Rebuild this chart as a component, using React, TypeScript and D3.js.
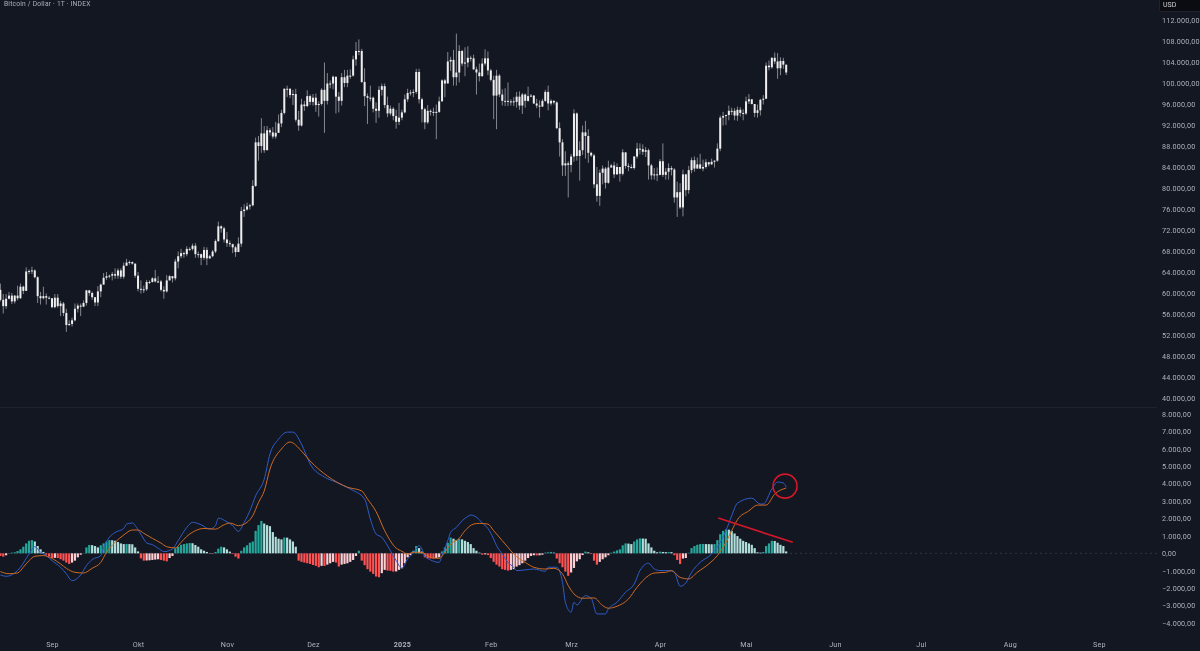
import { useEffect, useRef } from 'react'
import * as d3 from 'd3'

// daily candles, 14 Aug 2024 to 15 May 2025, thousands of USD. Open is the previous close
const firstOpen = 60.6
const closes = [
  58.7,57.5,58.9,59.5,58.4,59.5,59.0,61.2,60.4,64.1,64.2,64.3,63.0,59.4,59.0,59.4,59.1,59.0,
  57.3,59.1,57.5,58.0,56.2,53.9,54.1,54.8,57.0,57.6,57.4,58.1,60.5,60.0,59.2,58.2,60.3,61.6,62.9,63.2,63.3,63.6,63.3,64.3,63.1,65.2,65.8,65.9,65.6,63.3,
  60.8,60.6,60.7,62.1,62.1,62.8,62.2,62.2,60.6,60.3,62.4,63.2,62.8,66.0,67.0,67.6,67.4,68.4,68.4,69.0,67.4,67.4,66.7,68.2,66.6,67.0,67.9,69.9,72.7,72.3,70.2,
  69.5,69.3,68.7,67.8,69.4,75.6,75.9,76.5,76.7,80.4,88.7,88.0,90.4,87.2,91.0,90.6,89.8,90.5,92.3,94.3,98.9,98.9,97.7,97.9,93.0,91.9,95.9,95.6,97.5,96.4,
  97.2,95.8,96.0,98.7,96.6,99.9,99.9,101.2,97.4,96.6,101.1,100.0,101.4,101.4,104.5,106.1,106.1,100.2,97.5,97.2,97.2,95.1,94.7,98.7,99.4,95.8,94.2,95.1,93.7,92.6,93.4,
  94.4,96.9,98.1,98.2,98.3,102.1,96.9,95.0,92.5,94.7,94.5,94.5,94.5,96.5,100.5,99.9,104.1,104.4,101.1,102.0,106.1,103.7,103.9,104.8,104.7,102.6,102.0,101.3,103.7,104.7,102.4,
  100.6,97.6,101.4,97.8,96.6,96.6,96.5,96.5,96.4,97.4,95.7,97.8,96.6,97.5,97.6,96.1,95.7,95.5,96.6,98.3,96.1,96.6,96.3,91.4,88.7,84.3,84.7,84.4,
  86.0,94.2,86.1,87.2,90.6,89.9,86.7,86.2,80.7,78.5,82.9,83.7,81.0,83.9,84.3,82.6,84.0,82.7,86.8,84.2,84.0,83.8,86.0,87.5,87.4,86.9,87.2,84.3,82.4,82.6,82.5,
  85.1,82.5,83.1,83.8,83.5,78.2,79.2,76.3,82.6,79.6,83.4,85.3,83.7,84.5,83.7,84.0,84.9,84.5,85.0,85.2,87.5,93.4,93.7,93.9,94.7,94.7,93.8,94.9,94.3,94.2,
  96.5,96.9,96.0,94.3,94.8,96.8,97.0,103.3,103.0,104.8,104.1,102.8,104.2,103.5,102.0,
]
const highs = [
  61.8,59.8,59.8,60.2,60.0,59.6,61.4,61.8,61.4,64.9,64.5,65.0,64.5,63.2,60.2,61.2,59.9,59.4,
  59.0,59.8,59.8,58.5,58.3,57.0,54.8,55.3,58.0,58.0,58.0,58.6,60.6,60.6,60.3,59.2,61.3,61.8,63.8,64.0,63.5,64.0,64.7,64.7,64.7,65.8,66.5,66.2,66.0,65.6,
  64.0,62.4,61.4,62.5,62.4,63.0,64.4,63.2,62.5,61.3,63.4,63.4,63.1,66.5,67.9,68.4,67.9,68.9,68.7,69.4,69.5,67.9,67.5,68.8,68.7,67.3,68.2,70.2,73.6,72.9,72.6,
  71.6,70.0,69.4,69.0,70.6,76.4,76.9,77.2,77.0,81.5,89.6,89.9,93.3,91.8,91.8,91.4,91.6,92.6,94.0,94.9,99.0,99.5,99.0,98.7,98.9,94.7,97.0,96.6,98.6,97.8,
  97.9,98.0,96.5,99.0,103.9,101.9,100.5,101.4,101.2,98.3,101.9,102.5,102.5,102.6,105.2,107.8,108.3,106.5,102.8,98.0,99.5,97.4,96.3,99.4,99.9,99.9,97.4,95.7,95.4,94.9,96.2,
  94.9,97.8,98.9,98.7,98.8,102.7,102.7,97.2,95.3,95.8,95.0,95.3,95.9,97.4,100.7,100.8,105.9,105.0,106.3,109.4,107.2,106.3,106.8,107.0,105.2,105.4,103.1,103.7,104.7,106.4,106.0,
  102.7,101.4,102.5,101.7,98.8,99.0,100.1,96.9,97.3,98.3,98.4,98.1,98.0,99.3,97.9,97.7,97.0,96.7,97.0,98.7,99.5,96.9,96.7,96.5,92.5,89.3,87.0,85.1,
  86.5,95.0,94.4,88.9,91.9,92.8,91.2,86.9,86.5,84.0,83.5,84.3,84.0,85.2,84.6,85.0,84.7,84.0,87.4,86.7,84.7,84.5,86.1,88.6,88.5,88.3,87.8,87.5,84.6,83.8,83.9,
  85.5,88.5,83.8,84.7,84.2,83.8,81.2,80.9,83.5,82.7,84.2,85.8,86.0,85.8,86.5,85.4,85.5,85.0,85.6,85.3,88.5,93.8,94.5,94.0,95.7,95.3,95.2,95.5,95.4,95.0,
  97.4,97.9,96.9,96.0,95.9,97.0,97.7,103.9,104.3,104.9,105.8,105.7,104.9,104.8,103.3,
]
const lows = [
  58.4,56.1,57.0,58.8,57.9,58.0,58.6,58.9,59.8,60.8,63.6,63.6,62.8,58.1,57.8,58.8,57.8,58.8,
  57.1,57.1,57.2,55.6,55.6,52.6,53.7,53.6,54.6,56.3,55.6,57.3,57.6,59.5,58.7,57.5,57.5,59.2,61.6,62.5,62.8,62.4,62.7,62.7,62.7,62.7,65.2,65.4,65.4,62.9,
  60.3,59.9,60.0,60.4,61.7,62.0,62.0,61.9,60.3,58.9,60.1,62.4,62.0,62.4,64.7,66.6,66.7,67.0,68.0,68.1,66.7,66.7,65.3,66.3,65.3,66.5,66.8,67.6,69.7,71.5,69.6,
  68.8,68.8,67.6,66.9,68.5,68.8,74.5,75.7,75.9,76.5,80.2,85.2,86.7,86.7,87.2,90.0,89.4,89.4,91.0,91.6,94.0,97.3,97.1,95.8,92.6,90.9,91.7,94.7,95.4,95.8,
  95.7,94.5,93.6,95.7,90.5,95.9,99.0,98.8,94.2,94.4,95.7,99.2,99.2,100.8,101.2,103.3,105.3,100.0,95.6,92.2,96.5,94.4,92.4,93.4,97.6,95.2,93.5,93.8,92.9,91.3,92.0,
  92.9,94.2,96.4,97.6,97.3,97.9,96.1,92.5,91.2,92.2,93.8,93.7,89.3,94.3,96.5,97.3,100.1,102.3,99.5,99.5,100.1,103.2,101.3,103.0,104.1,102.5,97.8,100.3,101.2,103.3,101.5,
  100.3,93.1,91.2,97.3,95.7,95.6,95.6,95.7,95.6,95.3,94.9,94.1,95.3,96.4,97.3,96.0,95.2,93.4,95.5,96.4,94.8,95.7,95.9,91.2,86.0,82.3,82.3,78.2,
  83.0,85.0,85.2,81.4,86.3,85.6,84.8,85.9,80.0,77.4,76.6,80.7,79.9,80.8,83.9,81.9,82.5,81.2,82.4,83.7,83.2,83.7,83.5,85.6,86.4,86.3,85.9,81.6,81.6,81.6,81.3,
  82.4,82.1,81.6,81.6,82.4,77.2,74.5,76.0,74.6,78.4,78.9,82.8,83.1,83.7,83.6,83.2,83.7,84.1,84.4,83.9,85.0,87.0,91.9,92.0,92.9,93.9,92.9,92.8,93.6,92.9,
  93.9,96.0,95.9,93.5,93.4,93.8,95.9,97.0,102.4,102.7,103.6,100.8,101.5,102.7,101.5,
]

// MACD histogram, one value per candle
const histogram = [
  -150,-190,-110,20,40,60,130,230,380,570,720,760,680,420,230,80,
  -80,-190,-270,-260,-270,-340,-420,-530,-610,-530,-420,-230,-80,20,
  340,480,470,420,340,460,570,680,760,750,720,650,570,530,540,530,520,340,110,
  -290,-420,-410,-400,-380,-360,-340,-380,-420,-460,-270,-150,
  290,380,490,530,570,590,580,480,380,230,150,80,20,-40,
  80,270,380,340,230,100,-40,-190,-300,
  150,340,460,610,680,1290,1620,1860,1710,1620,1560,1220,950,840,800,910,900,800,680,380,
  -420,-490,-530,-570,-610,-670,-720,-800,-720,-730,-650,-570,-490,-530,-760,-650,-610,-570,-490,-380,-150,150,
  -420,-680,-910,-1050,-1180,-1330,-1370,-1140,-950,-990,-1000,-1050,-1040,-950,
  -860,-570,-230,-100,150,420,300,100,-230,-290,-300,-310,-270,-230,110,340,610,910,840,760,840,800,720,650,530,300,150,40,
  -80,-60,-100,-270,-490,-650,-760,-910,-950,-990,-950,-910,-760,-680,-570,-420,-270,-150,-110,-120,-110,-80,
  40,60,80,40,
  -300,-570,-800,-1050,-1290,-1100,-840,-460,-340,-100,
  100,60,-40,-420,-650,-490,-340,-230,-110,
  40,100,170,230,460,570,560,530,680,800,860,850,840,570,340,150,60,100,80,70,80,70,-110,-380,-610,-300,-270,
  30,300,420,490,530,540,530,530,520,530,760,1100,1290,1370,1360,1290,1140,990,840,720,650,570,490,300,60,40,80,420,570,720,710,610,490,420,110,
]

// MACD line, candle number and value read at its turning points
const macdDays = [
  0,2,5,7,10,12,14,16,18,21,23,25,28,30,32,35,36,38,40,43,44,46,48,50,51,53,55,57,60,62,65,67,70,73,75,76,79,81,83,85,87,89,
  92,94,97,100,102,105,108,113,117,122,127,129,131,133,136,138,140,142,144,146,147,148,150,153,154,156,157,159,161,163,164,167,168,170,172,173,175,177,179,180,183,186,190,191,194,196,197,199,200,201,204,206,208,211,212,215,218,221,223,226,228,230,233,235,237,239,241,244,248,251,253,255,257,262,265,266,269,271,273,274,
]
const macdValues = [
  -1240,-1320,-1130,-800,-40,380,60,-130,-420,-800,-1180,-1570,-1240,-710,-360,-130,340,920,1200,1430,1680,1740,1360,820,590,500,290,100,250,730,1490,1780,1640,1390,1590,2020,1810,1590,1260,1780,2440,3300,
  4260,5700,6560,6960,6960,6270,5130,4380,4090,3690,3120,1970,1110,920,150,-420,-850,-320,20,440,250,-170,-380,-520,-130,730,1200,1490,1870,2120,2200,1930,1740,1430,820,440,-40,-520,-800,-990,-950,-900,-1030,-800,-800,-1660,-2810,-3380,-2810,-2960,-2430,-2580,-3480,-3480,-3190,-2810,-2230,-1760,-990,-570,-900,-990,-990,-1090,-1890,-1700,-1090,-520,-40,630,1300,2160,2880,3170,2830,2830,3690,4090,4040,3810,
]

// signal line, same way
const signalDays = [
  0,3,6,8,10,12,15,18,21,23,26,29,32,35,37,40,43,46,48,50,53,56,58,61,63,65,68,71,75,78,80,83,86,88,90,
  92,94,98,101,105,108,114,121,126,128,131,134,138,140,142,144,147,149,153,155,157,160,162,165,167,170,172,175,177,179,183,186,190,193,196,198,200,203,207,210,212,215,219,222,226,228,232,234,237,240,243,247,250,253,255,257,261,264,267,270,274,
]
const signalValues = [
  -1050,-1170,-1130,-800,-420,-170,-130,-290,-610,-860,-1090,-1130,-860,-520,60,630,1050,1340,1340,1150,860,590,380,310,630,970,1300,1430,1390,1640,1740,1590,1780,2160,2920,
  3580,4840,5990,6390,5870,5300,4440,3800,3580,3120,2400,1300,300,120,-40,60,60,-170,-290,60,530,860,1300,1680,1720,1680,1300,730,340,-40,-520,-800,-900,-860,-1180,-1850,-2330,-2580,-2560,-3000,-3150,-3040,-2620,-1950,-1280,-1130,-1090,-990,-1380,-1470,-1090,-610,-130,630,1300,1930,2440,2770,2770,3400,3750,
]

const priceTicks = [40,44,48,52,56,60,64,68,72,76,80,84,88,92,96,100,104,108,112]
const macdTicks = [-4000,-3000,-2000,-1000,0,1000,2000,3000,4000,5000,6000,7000,8000]
const monthLabels = ['Sep','Okt','Nov','Dez','2025','Feb','Mrz','Apr','Mai','Jun','Jul','Aug','Sep']
const monthDays = [18,48,79,109,140,171,199,230,260,291,321,352,383]

// drawn-on markup: falling line over the histogram and ring round the last MACD top
const trendDays = [250.3,276.3]
const trendValues = [2030,630]
const ringDay = 273.6
const ringValue = 3860

const bg = '#131722'
const axisText = '#b2b5be'

const deFormat = d3.formatLocale({ decimal: ',', thousands: '.', grouping: [3], currency: ['', ''] }).format(',.2f')

export default function App() {
  const chartRef = useRef<SVGSVGElement | null>(null)

  useEffect(() => {
    if (!chartRef.current) return
    const svg = d3.select(chartRef.current)
    svg.selectAll('*').remove()

    const width = 1200
    const height = 651

    const x = d3.scaleLinear().domain([18, 383]).range([52, 1098.8])
    const y = d3.scaleLinear().domain([40, 112]).range([398, 20])
    const yMacd = d3.scaleLinear().domain([-4000, 8000]).range([623, 414])

    svg.append('rect').attr('width', width).attr('height', height).attr('fill', bg)

    // pane separator and zero line
    svg.append('line')
      .attr('x1', 0).attr('x2', 1157).attr('y1', 407.5).attr('y2', 407.5)
      .attr('stroke', '#1e222d')
    svg.append('line')
      .attr('x1', 0).attr('x2', 1157).attr('y1', yMacd(0)).attr('y2', yMacd(0))
      .attr('stroke', '#3a3e4a').attr('stroke-width', 0.8).attr('stroke-dasharray', '2,3')

    // candles
    const opens = closes.map((_, i) => (i === 0 ? firstOpen : closes[i - 1]))
    const candles = svg.append('g')
    candles.selectAll('line')
      .data(closes)
      .enter()
      .append('line')
      .attr('x1', (_, i) => x(i))
      .attr('x2', (_, i) => x(i))
      .attr('y1', (_, i) => y(highs[i]))
      .attr('y2', (_, i) => y(lows[i]))
      .attr('stroke', '#85878e')
      .attr('stroke-width', 1)
    candles.selectAll('rect')
      .data(closes)
      .enter()
      .append('rect')
      .attr('x', (_, i) => x(i) - 1)
      .attr('width', 2)
      .attr('y', (d, i) => y(Math.max(d, opens[i])))
      .attr('height', (d, i) => Math.max(1, Math.abs(y(d) - y(opens[i]))))
      .attr('fill', '#eeeeee')

    // histogram, colours follow TradingView's rising/falling rule
    svg.append('g')
      .selectAll('rect')
      .data(histogram)
      .enter()
      .append('rect')
      .attr('x', (_, i) => x(i) - 1.1)
      .attr('width', 2.2)
      .attr('y', d => Math.min(yMacd(d), yMacd(0)))
      .attr('height', d => Math.abs(yMacd(d) - yMacd(0)))
      .attr('fill', (d, i) => {
        const rising = i > 0 && histogram[i - 1] < d
        if (d >= 0) return rising ? '#26a69a' : '#b2dfdb'
        return rising ? '#ffcdd2' : '#ff5252'
      })

    // MACD and signal lines
    const line = d3.line<number>()
      .x(d => x(d))
      .curve(d3.curveMonotoneX)

    svg.append('path')
      .attr('fill', 'none')
      .attr('stroke', '#2f5cc8')
      .attr('stroke-width', 1)
      .attr('d', line.y((_, i) => yMacd(macdValues[i]))(macdDays))

    svg.append('path')
      .attr('fill', 'none')
      .attr('stroke', '#cf6a22')
      .attr('stroke-width', 1)
      .attr('d', line.y((_, i) => yMacd(signalValues[i]))(signalDays))

    // markup
    svg.append('line')
      .attr('x1', x(trendDays[0])).attr('x2', x(trendDays[1]))
      .attr('y1', yMacd(trendValues[0])).attr('y2', yMacd(trendValues[1]))
      .attr('stroke', '#d4172a').attr('stroke-width', 1.6)
    svg.append('circle')
      .attr('cx', x(ringDay)).attr('cy', yMacd(ringValue)).attr('r', 12)
      .attr('fill', 'none').attr('stroke', '#d4172a').attr('stroke-width', 1.6)

    // all text goes in a group with a hair of transparency, that turns off the coloured LCD fringes
    const labels = svg.append('g').attr('opacity', 0.99)

    const styleAxis = (g: d3.Selection<SVGGElement, unknown, null, undefined>) => {
      g.select('.domain').remove()
      g.selectAll('.tick line').remove()
      g.selectAll('.tick text')
        .attr('fill', axisText)
        .style('font-family', 'Roboto, "Liberation Sans", sans-serif')
        .style('font-size', '7.2px')
        .style('letter-spacing', '0.2px')
    }

    labels.append('g')
      .attr('transform', 'translate(1162,0)')
      .call(d3.axisRight(y).tickValues(priceTicks).tickSize(0).tickPadding(0).tickFormat(d => deFormat(+d * 1000)))
      .call(styleAxis)

    labels.append('g')
      .attr('transform', 'translate(1162,0)')
      .call(d3.axisRight(yMacd).tickValues(macdTicks).tickSize(0).tickPadding(0).tickFormat(d => deFormat(+d)))
      .call(styleAxis)

    labels.append('g')
      .attr('transform', 'translate(0,642)')
      .call(d3.axisBottom(x).tickValues(monthDays).tickSize(0).tickPadding(0).tickFormat((_, i) => monthLabels[i]))
      .call(styleAxis)
    labels.selectAll('.tick text').filter(function () { return d3.select(this).text() === '2025' })
      .style('font-weight', '700')

    // unit box
    labels.append('rect')
      .attr('x', 1159.5).attr('y', -3).attr('width', 44).attr('height', 14.5).attr('rx', 2)
      .attr('fill', '#0b0d13').attr('stroke', '#2a2e39').attr('stroke-width', 0.7)
    labels.append('text')
      .attr('x', 1163).attr('y', 6.5)
      .attr('fill', '#d1d4dc')
      .style('font-family', 'Roboto, "Liberation Sans", sans-serif')
      .style('font-size', '7px')
      .text('USD')

    // title
    labels.append('text')
      .attr('x', 4).attr('y', 5.5)
      .attr('fill', axisText)
      .style('font-family', 'Roboto, "Liberation Sans", sans-serif')
      .style('font-size', '6.7px')
      .style('letter-spacing', '0.2px')
      .text('Bitcoin / Dollar · 1T · INDEX')
  }, [])

  return (
    <svg
      ref={chartRef}
      width={1200}
      height={651}
      viewBox="0 0 1200 651"
      style={{ position: 'absolute', left: 0, top: 0, display: 'block' }}
    />
  )
}
